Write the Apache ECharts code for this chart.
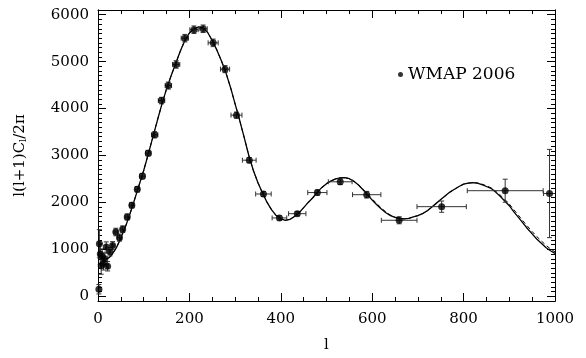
<!DOCTYPE html>
<html>
<head>
<meta charset="utf-8">
<script src="https://cdn.jsdelivr.net/npm/echarts@6/dist/echarts.min.js"></script>
<style>
  html, body { margin: 0; padding: 0; background: #fff; }
  #chart { width: 586px; height: 358px; }
</style>
</head>
<body>
<div id="chart"></div>
<script>
// WMAP 2006 binned points: multipole, value, half bin width, error
var wmapL = [2, 3, 5, 7, 9, 12, 15, 18, 21, 26, 32, 39, 47, 54, 64, 74, 86, 97, 110, 124, 139, 154, 171, 190, 210, 230, 252, 278, 303, 331, 362, 397, 436, 480, 530, 588, 659, 752, 891, 988];
var wmapV = [150, 1120, 900, 650, 850, 700, 800, 1050, 640, 950, 1080, 1370, 1250, 1430, 1690, 1940, 2280, 2560, 3050, 3440, 4170, 4490, 4940, 5500, 5680, 5700, 5400, 4840, 3860, 2900, 2180, 1670, 1760, 2210, 2440, 2165, 1620, 1910, 2250, 2190];
var wmapDL = [0, 1, 1, 1, 1, 1, 1, 1, 2, 2, 3, 4, 4, 4, 5, 5, 5, 6, 6, 7, 7, 7, 8, 8, 9, 9, 11, 10, 12, 15, 17, 16, 19, 21, 26, 31, 39, 54, 83, 13];
var wmapErr = [100, 300, 220, 180, 160, 140, 120, 110, 100, 90, 85, 80, 75, 70, 65, 60, 60, 60, 60, 65, 70, 75, 80, 80, 80, 80, 80, 75, 65, 55, 50, 45, 45, 55, 60, 70, 75, 120, 245, 940];

// model curves
var modelL = [2, 5, 10, 15, 20, 25, 30, 40, 50, 60, 70, 80, 90, 100, 110, 120, 130, 140, 150, 160, 170, 180, 190, 200,
  210, 220, 230, 240, 250, 260, 270, 280, 290, 300, 310, 320, 330, 340, 350, 360, 370, 380, 390, 400,
  410, 420, 430, 440, 450, 460, 470, 480, 490, 500, 510, 520, 530, 540, 550, 560, 570, 580, 590, 600,
  610, 620, 630, 640, 650, 660, 670, 680, 690, 700, 710, 720, 730, 740, 750, 760, 770, 780, 790, 800,
  810, 820, 830, 840, 850, 860, 870, 880, 890, 900, 910, 920, 930, 940, 950, 960, 970, 980, 990, 1000];
var modelSolid = [1120, 960, 850, 800, 800, 830, 880, 1030, 1240, 1480, 1760, 2060, 2370, 2680, 3030, 3390, 3750, 4100, 4420, 4700, 4960, 5220, 5450, 5610,
  5700, 5740, 5720, 5620, 5450, 5250, 5020, 4760, 4450, 4100, 3750, 3380, 3000, 2680, 2420, 2200, 2000, 1840, 1720, 1650,
  1620, 1640, 1700, 1780, 1890, 2000, 2100, 2220, 2320, 2400, 2460, 2500, 2525, 2530, 2505, 2450, 2370, 2270, 2160, 2050,
  1950, 1860, 1780, 1720, 1680, 1655, 1650, 1660, 1690, 1720, 1760, 1820, 1900, 1980, 2060, 2140, 2220, 2280, 2340, 2390,
  2410, 2420, 2410, 2380, 2340, 2300, 2220, 2130, 2030, 1930, 1800, 1680, 1560, 1440, 1330, 1220, 1130, 1040, 970, 915];
var modelDashed = [1120, 960, 850, 800, 800, 830, 880, 1030, 1240, 1480, 1760, 2060, 2370, 2680, 3030, 3390, 3750, 4100, 4420, 4700, 4960, 5220, 5450, 5610,
  5700, 5740, 5720, 5620, 5450, 5250, 5020, 4760, 4450, 4100, 3750, 3380, 3000, 2680, 2420, 2200, 2000, 1840, 1720, 1650,
  1620, 1640, 1700, 1780, 1890, 2000, 2100, 2220, 2320, 2400, 2460, 2500, 2525, 2530, 2505, 2450, 2370, 2280, 2180, 2075,
  1975, 1880, 1795, 1730, 1685, 1658, 1650, 1660, 1690, 1720, 1760, 1820, 1900, 1980, 2060, 2140, 2220, 2280, 2340, 2390,
  2410, 2420, 2415, 2390, 2355, 2310, 2240, 2160, 2065, 1965, 1845, 1725, 1605, 1490, 1380, 1275, 1180, 1090, 1010, 945];

var yTicks = [0, 1000, 2000, 3000, 4000, 5000, 6000];

var font = 'DejaVu Serif';
var chart = echarts.init(document.getElementById('chart'));

var pts = wmapL.map(function (l, i) { return [l, wmapV[i]]; });
var errs = wmapL.map(function (l, i) { return [l, wmapV[i], wmapDL[i], wmapErr[i]]; });

function plain(v) { return String(v); }

function renderErr(params, api) {
  var cs = params.coordSys;
  var l = api.value(0), v = api.value(1), dl = api.value(2), dv = api.value(3);
  var c = api.coord([l, v]);
  var x0 = Math.max(cs.x, api.coord([l - dl, v])[0]);
  var x1 = Math.min(cs.x + cs.width, api.coord([l + dl, v])[0]);
  var yt = api.coord([l, v + dv])[1];
  var yb = api.coord([l, v - dv])[1];
  var st = { stroke: '#333', lineWidth: 1 };
  var cap = 2.5;
  var kids = [
    { type: 'line', shape: { x1: c[0], y1: yt, x2: c[0], y2: yb }, style: st },
    { type: 'line', shape: { x1: c[0] - cap, y1: yt, x2: c[0] + cap, y2: yt }, style: st },
    { type: 'line', shape: { x1: c[0] - cap, y1: yb, x2: c[0] + cap, y2: yb }, style: st }
  ];
  if (dl > 0) {
    kids.push({ type: 'line', shape: { x1: x0, y1: c[1], x2: x1, y2: c[1] }, style: st });
    kids.push({ type: 'line', shape: { x1: x0, y1: c[1] - cap, x2: x0, y2: c[1] + cap }, style: st });
    if (x1 < cs.x + cs.width) {
      kids.push({ type: 'line', shape: { x1: x1, y1: c[1] - cap, x2: x1, y2: c[1] + cap }, style: st });
    }
  }
  return { type: 'group', children: kids };
}

function yAxisDef(pos, major, labels) {
  return {
    type: 'value',
    position: pos,
    min: -100,
    max: 6100,
    interval: 100,
    axisLine: { show: true, onZero: false, lineStyle: { color: '#000', width: 1 } },
    axisTick: major
      ? { show: true, inside: true, length: 8, customValues: yTicks, lineStyle: { color: '#000' } }
      : { show: true, inside: true, length: 4, lineStyle: { color: '#000' } },
    axisLabel: labels
      ? { show: true, customValues: yTicks, formatter: plain, margin: 9, color: '#000', fontFamily: font, fontSize: 15 }
      : { show: false },
    splitLine: { show: false }
  };
}

var yLeft = yAxisDef('left', true, true);
yLeft.name = 'l(l+1)C{sub|l}/2π';
yLeft.nameLocation = 'middle';
yLeft.nameRotate = 90;
yLeft.nameGap = 70;
yLeft.nameTextStyle = {
  color: '#000', fontFamily: font, fontSize: 15,
  rich: { sub: { fontFamily: font, fontSize: 10, verticalAlign: 'bottom', padding: [6, 0, 0, 0] } }
};

function xAxisDef(pos, labels) {
  return {
    type: 'value',
    position: pos,
    min: 0,
    max: 1000,
    interval: 200,
    axisLine: { show: true, onZero: false, lineStyle: { color: '#000', width: 1 } },
    axisTick: { show: true, inside: true, length: 8, lineStyle: { color: '#000' } },
    minorTick: { show: true, splitNumber: 4, length: 4, lineStyle: { color: '#000' } },
    axisLabel: labels
      ? { show: true, formatter: plain, margin: 11, color: '#000', fontFamily: font, fontSize: 15 }
      : { show: false },
    splitLine: { show: false },
    minorSplitLine: { show: false }
  };
}

var xBottom = xAxisDef('bottom', true);
xBottom.name = 'l';
xBottom.nameLocation = 'middle';
xBottom.nameGap = 37;
xBottom.nameTextStyle = { color: '#000', fontFamily: font, fontSize: 15 };

var option = {
  animation: false,
  backgroundColor: '#fff',
  grid: { left: 98, right: 31, top: 10, bottom: 53 },
  legend: {
    data: [{ name: 'WMAP 2006', icon: 'circle' }],
    left: 393,
    top: 61,
    itemWidth: 5,
    itemHeight: 5,
    itemGap: 9,
    textStyle: { color: '#000', fontFamily: font, fontSize: 17 }
  },
  xAxis: [xBottom, xAxisDef('top', false)],
  yAxis: [yLeft, yAxisDef('left', false, false), yAxisDef('right', true, false), yAxisDef('right', false, false)],
  series: [
    {
      name: 'model',
      type: 'line',
      data: modelL.map(function (l, i) { return [l, modelSolid[i]]; }),
      showSymbol: false,
      lineStyle: { color: '#000', width: 1.3 },
      z: 2
    },
    {
      name: 'model dashed',
      type: 'line',
      data: modelL.map(function (l, i) { return [l, modelDashed[i]]; }),
      showSymbol: false,
      lineStyle: { color: '#000', width: 1, type: [4, 3] },
      z: 2
    },
    {
      name: 'errors',
      type: 'custom',
      renderItem: renderErr,
      data: errs,
      z: 3
    },
    {
      name: 'WMAP 2006',
      type: 'scatter',
      data: pts,
      symbol: 'circle',
      symbolSize: 7,
      itemStyle: { color: '#000' },
      z: 4
    }
  ]
};

chart.setOption(option);
</script>
</body>
</html>
